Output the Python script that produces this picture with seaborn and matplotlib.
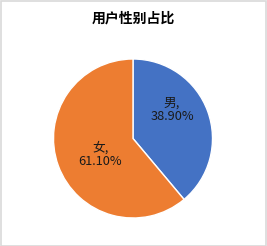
import matplotlib
matplotlib.use("Agg")
import matplotlib.pyplot as plt
import seaborn as sns
from matplotlib.patches import Rectangle

categories = ["男", "女"]
values = [38.90, 61.10]
colors = ["#4472C4", "#ED7D31"]
title = "用户性别占比"

sns.set_theme(style="white")
plt.rcParams['font.family'] = ['Noto Sans CJK SC', 'DejaVu Sans']

W, H = 267, 246
fig = plt.figure(figsize=(W / 100, H / 100), dpi=100)
fig.patch.set_facecolor("white")

cx, cy, r = 133, 138.5, 79.5
ax = fig.add_axes([(cx - r) / W, (H - cy - r) / H, 2 * r / W, 2 * r / H])
wedges, _ = ax.pie(values, colors=colors, startangle=90, counterclock=False,
                   wedgeprops=dict(edgecolor="white", linewidth=1))
ax.set_xlim(-1, 1)
ax.set_ylim(-1, 1)
ax.set_aspect("auto")
ax.axis("off")

label_pos = [(0.49, 0.36), (-0.41, -0.2)]
for cat, v, (x, y) in zip(categories, values, label_pos):
    ax.text(x, y, f"{cat},\n{v:.2f}%", ha="center", va="center", fontsize=9.2,
            color="#1a1a1a", linespacing=1.1)

fig.text(cx / W, 1 - 18 / H, title, ha="center", va="center", fontsize=10,
         fontweight="bold", color="#000000")

fig.patches.append(Rectangle((0.5 / W, 0.5 / H), 1 - 1.5 / W, 1 - 1.5 / H,
                             transform=fig.transFigure, fill=False,
                             edgecolor="#D9D9D9", linewidth=1.2))

fig.savefig("out.png", dpi=100)
